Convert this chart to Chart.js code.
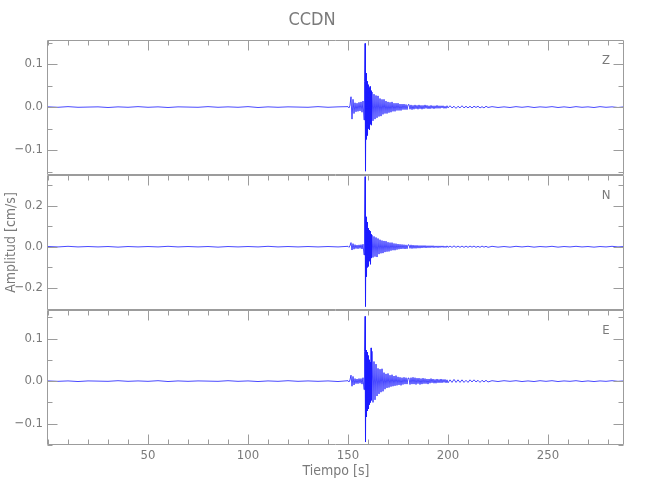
<!DOCTYPE html>
<html><head><meta charset="utf-8">
<script src="https://cdn.jsdelivr.net/npm/chart.js@4.4.1/dist/chart.umd.min.js"></script>
<style>
html,body{margin:0;padding:0;background:#fff;}
#wrap{position:relative;width:650px;height:500px;background:#fff;}
#wrap canvas{position:absolute;left:0;top:0;}
</style></head><body>
<div id="wrap">
<canvas id="cZ" width="650" height="500"></canvas>
<canvas id="cN" width="650" height="500"></canvas>
<canvas id="cE" width="650" height="500"></canvas>
</div>
<script>
// ---- data (time in s, velocity in cm/s) ----
const tiempo = [
 0,5,10,15,20,25,30,35,40,45,50,55,60,65,70,75,80,85,90,95,100,105,110,115,120,125,130,135,140,145,
 150,150.5,151,151.5,152,152.5,153,153.5,154,154.5,155,155.5,156,156.5,157,157.5,158,
 158.25,158.5,158.75,159,159.25,159.5,159.75,160,160.25,160.5,160.75,161,161.25,161.5,161.75,162,
 162.5,163,163.5,164,164.5,165,165.5,166,166.5,167,167.5,168,168.5,169,169.5,170,170.5,171,171.5,172,172.5,173,173.5,174,174.5,175,175.5,176,176.5,177,177.5,178,178.5,179,179.5,180,
 180.5,181,181.5,182,182.5,183,183.5,184,184.5,185,185.5,186,186.5,187,187.5,188,188.5,189,189.5,190,
 190.5,191,191.5,192,192.5,193,193.5,194,194.5,195,195.5,196,196.5,197,197.5,198,198.5,199,199.5,200,
 201,202,203,204,205,206,207,208,209,210,211,212,213,214,215,216,217,218,219,220,
 222,225,228,231,234,237,240,243,246,249,252,255,258,261,264,267,270,273,276,279,282,285,288
];
const velZ = [
 0.0005,-0.0005,0.001,-0.0005,0.000,0.0005,-0.001,0.0005,-0.0005,0.001,-0.0005,0.0005,-0.001,0.0005,0.000,-0.0005,0.001,-0.0005,0.0005,-0.0005,0.001,-0.001,0.0005,-0.0005,0.0005,0.000,-0.0005,0.001,-0.0005,0.0005,
 0.001,-0.002,0.004,0.024,-0.028,0.018,-0.015,0.010,-0.011,0.009,-0.010,0.011,-0.009,0.012,-0.012,0.014,-0.030,
 0.060,0.148,-0.149,0.079,-0.075,0.060,-0.066,0.052,-0.050,0.045,-0.053,0.048,-0.040,0.038,-0.042,0.035,
 -0.032,0.030,-0.028,0.027,-0.025,0.026,-0.022,0.020,-0.021,0.018,-0.017,0.018,-0.015,0.014,-0.015,0.012,-0.013,0.011,-0.012,0.012,-0.010,0.009,-0.010,0.009,-0.008,0.009,-0.008,0.007,-0.008,0.007,-0.006,0.007,-0.006,0.006,-0.006,0.005,
 0.006,-0.005,0.005,-0.006,0.004,-0.005,0.005,-0.004,0.004,-0.005,0.005,-0.004,0.004,-0.005,0.004,-0.004,0.005,-0.003,0.004,-0.004,
 0.003,-0.004,0.004,-0.003,0.003,-0.004,0.003,-0.003,0.004,-0.003,0.003,-0.003,0.003,-0.002,0.003,-0.003,0.002,-0.003,0.003,-0.002,
 0.003,-0.002,0.002,-0.003,0.002,-0.002,0.003,-0.002,0.002,-0.002,0.002,-0.002,0.002,-0.001,0.002,-0.002,0.001,-0.002,0.002,-0.001,
 0.001,-0.001,0.0005,-0.001,0.001,-0.0005,0.001,-0.001,0.0005,-0.0005,0.001,-0.001,0.0005,-0.001,0.001,-0.0005,0.0005,-0.001,0.001,-0.0005,0.0005,-0.001,0.0005
];
const velN = [
 0.001,-0.001,0.002,-0.001,0.001,-0.001,0.001,-0.002,0.001,-0.001,0.001,-0.001,0.002,-0.001,0.001,-0.001,0.001,-0.002,0.001,-0.001,0.001,-0.001,0.002,-0.001,0.001,-0.001,0.001,-0.001,0.001,-0.001,
 0.002,-0.003,0.005,0.020,-0.016,0.015,-0.012,0.010,-0.009,0.008,-0.010,0.009,-0.008,0.010,-0.011,0.012,-0.040,
 0.120,0.340,-0.290,0.145,-0.145,0.120,-0.100,0.090,-0.095,0.080,-0.070,0.075,-0.085,0.060,-0.055,0.056,
 -0.052,0.050,-0.048,0.045,-0.050,0.040,-0.036,0.034,-0.032,0.030,-0.031,0.028,-0.026,0.027,-0.024,0.022,-0.023,0.020,-0.019,0.020,-0.017,0.016,-0.017,0.015,-0.014,0.013,-0.012,0.012,-0.011,0.011,-0.010,0.010,-0.011,0.009,-0.010,0.009,
 0.009,-0.008,0.009,-0.009,0.008,-0.008,0.007,-0.008,0.007,-0.007,0.006,-0.007,0.006,-0.006,0.006,-0.005,0.006,-0.006,0.005,-0.005,
 0.005,-0.005,0.005,-0.004,0.005,-0.005,0.004,-0.004,0.004,-0.005,0.004,-0.004,0.004,-0.003,0.004,-0.004,0.003,-0.004,0.004,-0.003,
 0.003,-0.003,0.004,-0.003,0.003,-0.003,0.003,-0.003,0.003,-0.003,0.003,-0.002,0.003,-0.003,0.002,-0.003,0.003,-0.002,0.002,-0.003,
 0.002,-0.002,0.001,-0.002,0.002,-0.001,0.002,-0.002,0.001,-0.001,0.002,-0.002,0.001,-0.001,0.002,-0.001,0.001,-0.002,0.001,-0.001,0.002,-0.001,0.001
];
const velE = [
 0.0005,-0.0005,0.0005,-0.001,0.0005,0.000,-0.0005,0.001,-0.0005,0.0005,-0.0005,0.001,-0.001,0.0005,-0.0005,0.0005,0.000,-0.0005,0.001,-0.0005,0.0005,-0.001,0.0005,-0.0005,0.001,-0.0005,0.0005,-0.0005,0.0005,-0.001,
 0.001,-0.002,0.003,0.014,-0.012,0.011,-0.009,0.006,-0.006,0.005,-0.006,0.006,-0.005,0.006,-0.007,0.008,-0.020,
 0.070,0.152,-0.143,0.073,-0.084,0.068,-0.070,0.060,-0.065,0.050,-0.055,0.045,-0.050,0.078,-0.045,0.070,
 -0.050,0.046,-0.044,0.040,-0.035,0.030,-0.030,0.028,-0.026,0.029,-0.024,0.020,-0.019,0.017,-0.016,0.018,-0.015,0.014,-0.013,0.015,-0.012,0.012,-0.011,0.013,-0.010,0.010,-0.009,0.009,-0.010,0.008,-0.008,0.009,-0.007,0.008,-0.007,0.007,
 0.007,-0.008,0.008,-0.007,0.009,-0.007,0.008,-0.008,0.007,-0.006,0.007,-0.008,0.006,-0.007,0.007,-0.006,0.006,-0.006,0.005,-0.007,
 0.005,-0.005,0.006,-0.004,0.005,-0.005,0.004,-0.005,0.005,-0.004,0.004,-0.004,0.005,-0.004,0.004,-0.003,0.004,-0.004,0.003,-0.004,
 0.003,-0.003,0.004,-0.003,0.003,-0.003,0.003,-0.003,0.002,-0.003,0.003,-0.002,0.003,-0.002,0.002,-0.003,0.002,-0.002,0.002,-0.002,
 0.001,-0.001,0.001,-0.0005,0.001,-0.001,0.0005,-0.001,0.001,-0.0005,0.001,-0.001,0.0005,-0.0005,0.001,-0.001,0.0005,-0.001,0.0005,-0.0005,0.001,-0.0005,0.0005
];
const xTickLabels = [50, 100, 150, 200, 250];
const zTickLabels = [-0.1, 0.0, 0.1];
const nTickLabels = [-0.2, 0.0, 0.2];
const eTickLabels = [-0.1, 0.0, 0.1];
const componentNames = ['Z', 'N', 'E'];

[velZ, velN, velE].forEach((a, i) => {
  if (a.length !== tiempo.length) throw new Error('length mismatch ' + i + ': ' + a.length + ' vs ' + tiempo.length);
});

// ---- styling ----
const FONT = "'DejaVu Sans Condensed','Liberation Sans Narrow','Liberation Sans',sans-serif";
const TXT = '#7a7a7a';
const AXC = '#9c9c9c';

function fmt(v) {
  if (Math.abs(v) < 1e-9) return '0.0';
  return (v < 0 ? '\u2212' : '') + Math.abs(v).toFixed(1);
}
function minorList(lo, hi, step, majors) {
  const out = [];
  const n = Math.round((hi - lo) / step);
  for (let i = 0; i <= n; i++) {
    const v = +(lo + i * step).toFixed(6);
    if (!majors.some(m => Math.abs(m - v) < 1e-9)) out.push(v);
  }
  return out;
}

const framePlugin = {
  id: 'panelFrame',
  afterDatasetsDraw(chart, args, o) {
    const {ctx, chartArea} = chart;
    const xs = chart.scales.x, ys = chart.scales.y;
    const L = Math.round(chartArea.left) - 0.5, R = Math.round(chartArea.right) - 0.5;
    const T = Math.round(chartArea.top) + 0.5, B = Math.round(chartArea.bottom) - 0.5;
    ctx.save();
    ctx.strokeStyle = AXC; ctx.lineWidth = 1;
    ctx.beginPath();
    ctx.rect(L, T, R - L, B - T);
    const yt = (v, len) => {
      const p = Math.round(ys.getPixelForValue(v)) + 0.5;
      if (p < T - 1 || p > B + 1) return;
      ctx.moveTo(L, p); ctx.lineTo(L + len, p);
      ctx.moveTo(R, p); ctx.lineTo(R - len, p);
    };
    o.yMajor.forEach(v => yt(v, 10));
    o.yMinor.forEach(v => yt(v, 5));
    const xt = (v, len) => {
      const p = Math.round(xs.getPixelForValue(v)) + 0.5;
      if (p < L || p > R) return;
      ctx.moveTo(p, T); ctx.lineTo(p, T + len);
      if (o.bottomTicks) { ctx.moveTo(p, B); ctx.lineTo(p, B - len); }
    };
    xTickLabels.forEach(v => xt(v, 10));
    minorList(0, 280, 10, xTickLabels).forEach(v => xt(v, 5));
    ctx.stroke();
    ctx.fillStyle = TXT;
    ctx.font = '13px ' + FONT;
    ctx.textAlign = 'center';
    ctx.textBaseline = 'middle';
    ctx.fillText(o.label, chartArea.right - 18, chartArea.top + 21);
    ctx.restore();
  }
};

function makePanel(id, values, yMin, yMax, yTicks, yMinor, label, opt) {
  return new Chart(document.getElementById(id), {
    type: 'line',
    data: {
      datasets: [{
        data: tiempo.map((t, i) => ({x: t, y: values[i]})),
        borderColor: '#1a1aff',
        borderWidth: 0.8,
        pointRadius: 0,
        tension: 0,
        fill: false
      }]
    },
    options: {
      responsive: false,
      animation: false,
      events: [],
      layout: {padding: {left: 0, right: 26, top: opt.padTop, bottom: opt.padBottom}},
      plugins: {
        legend: {display: false},
        tooltip: {enabled: false},
        title: opt.title ? {
          display: true, text: opt.title, color: TXT,
          font: {family: FONT, size: 18, weight: 'normal', lineHeight: 1.2},
          padding: {top: 10, bottom: 8.4}
        } : {display: false},
        panelFrame: {yMajor: yTicks, yMinor: yMinor, label: label, bottomTicks: !!opt.showX}
      },
      scales: {
        x: {
          type: 'linear', min: 0, max: 288,
          display: !!opt.showX,
          afterBuildTicks: s => { s.ticks = xTickLabels.map(v => ({value: v})); },
          afterFit: s => { if (opt.showX) s.height = 55; },
          grid: {display: false, drawTicks: false},
          border: {display: false},
          ticks: {color: TXT, font: {family: FONT, size: 13}, padding: 3, maxRotation: 0, autoSkip: false,
                  callback: v => String(v)},
          title: {display: !!opt.showX, text: 'Tiempo [s]', color: TXT,
                  font: {family: FONT, size: 14}, padding: {top: 4, bottom: 20}}
        },
        y: {
          type: 'linear', min: yMin, max: yMax,
          afterBuildTicks: s => { s.ticks = yTicks.map(v => ({value: v})); },
          afterFit: s => { s.width = 48; },
          grid: {display: false, drawTicks: false},
          border: {display: false},
          ticks: {color: TXT, font: {family: FONT, size: 13}, padding: 5, callback: v => fmt(v)},
          title: {display: !!opt.yTitle, text: opt.yTitle || '', color: TXT,
                  font: {family: FONT, size: 14}, padding: {top: 3, bottom: 3}}
        }
      }
    },
    plugins: [framePlugin]
  });
}

makePanel('cZ', velZ, -0.158, 0.156, zTickLabels, [-0.15, -0.05, 0.05, 0.15], componentNames[0],
  {padTop: 0, padBottom: 325, title: 'CCDN'});
makePanel('cN', velN, -0.307, 0.348, nTickLabels, [-0.3, -0.1, 0.1, 0.3], componentNames[1],
  {padTop: 175, padBottom: 190, yTitle: 'Amplitud [cm/s]'});
makePanel('cE', velE, -0.150, 0.167, eTickLabels, [-0.15, -0.05, 0.05, 0.15], componentNames[2],
  {padTop: 310, padBottom: 0, showX: true});
</script>
</body></html>
